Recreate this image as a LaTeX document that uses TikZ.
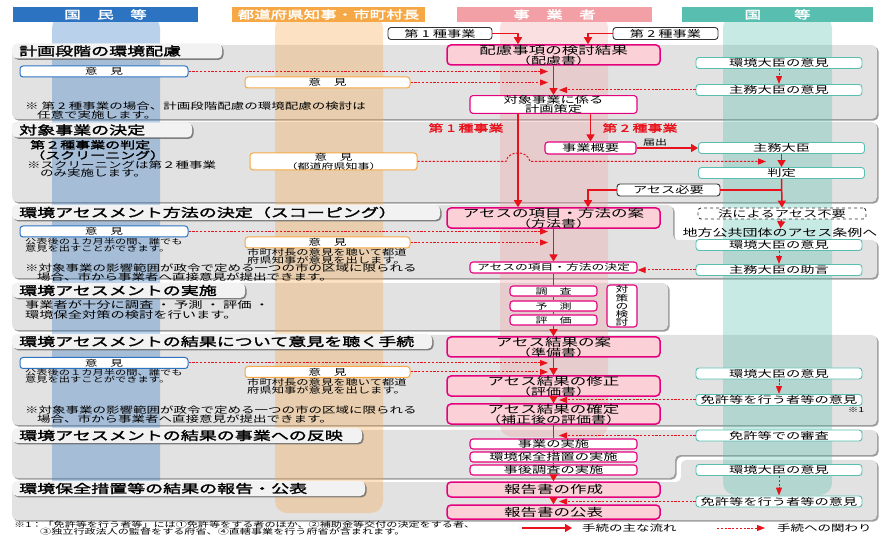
\documentclass[tikz,border=0pt]{standalone}
\usepackage{fontspec}
\setmainfont{Noto Sans CJK JP}[FakeStretch=1.5, AutoFakeBold=2]
\usepackage{tikz}
\usetikzlibrary{arrows.meta}
\usetikzlibrary{shadows}

\definecolor{kokuBlue}{HTML}{2C74C2}
\definecolor{kenOrange}{HTML}{F5A845}
\definecolor{jigyoPink}{HTML}{F2A0A6}
\definecolor{kuniTeal}{HTML}{58BFB0}
\definecolor{flowRed}{HTML}{E8121C}
\definecolor{boxMagenta}{HTML}{E5007D}
\definecolor{boxPink}{HTML}{FBD0D7}
\definecolor{panelGray}{HTML}{E2E2E2}

\newcommand{\fsz}[2]{\fontsize{#1}{#2}\selectfont}

\tikzset{x=1pt, y=-1pt,          % one unit is one pixel of the layout, y runs down
    every node/.style={inner sep=0pt, align=center},
    colhead/.style={             % coloured column heads
        fill=#1, text=white, minimum height=15pt,
        font=\fsz{11}{12}\bfseries},
    band/.style={                % vertical column strips
        fill=#1, fill opacity=0.33, rounded corners=12pt},
    panel/.style={               % grey panel of one step
        fill=panelGray, rounded corners=5pt,
        drop shadow={shadow xshift=1.6pt, shadow yshift=-1.6pt,
            fill=black!55, opacity=0.7}},
    steptab/.style={             % title of one step
        fill=gray!10, rounded corners=5pt, anchor=west,
        text width=#1, align=left,
        minimum height=15pt, inner xsep=7pt,
        font=\fsz{12}{13}\bfseries,
        drop shadow={shadow xshift=1.4pt, shadow yshift=-1.4pt,
            fill=black!60, opacity=0.8}},
    pinkbox/.style={             % documents of the proponent
        fill=boxPink, draw=boxMagenta, line width=1.5pt,
        rounded corners=4pt, minimum width=213pt, minimum height=20pt,
        font=\fsz{11}{9.8}},
    whitebox/.style={            % other work of the proponent
        fill=white, draw=boxMagenta, line width=1.1pt,
        rounded corners=3pt, minimum width=167pt, minimum height=11pt,
        font=\fsz{9.5}{9}},
    tealbox/.style={             % national government
        fill=white, draw=kuniTeal, line width=0.9pt,
        rounded corners=3pt, minimum width=166pt, minimum height=11pt,
        font=\fsz{9.5}{9}},
    bluebox/.style={             % citizens
        fill=white, draw=kokuBlue, line width=1pt,
        rounded corners=3pt, minimum width=168pt, minimum height=11pt,
        font=\fsz{8.5}{9}},
    orangebox/.style={           % prefectures and municipalities
        fill=white, draw=kenOrange, line width=1pt,
        rounded corners=3pt, minimum width=165pt, minimum height=11pt,
        font=\fsz{8.5}{9}},
    blackbox/.style={            % class of the project
        fill=white, draw=black!80, line width=0.9pt,
        rounded corners=3pt, minimum height=12pt, font=\fsz{9.5}{9}},
    note/.style={anchor=north west, align=left, font=\fsz{9}{8.5}},
    flow/.style={                % main flow of the procedure
        draw=flowRed, line width=1.5pt,
        -{Triangle[length=7pt,width=8pt]}},
    flowline/.style={draw=flowRed, line width=1.5pt},
    link/.style={                % involvement in the procedure
        draw=flowRed, line width=1pt, dash pattern=on 2.2pt off 1.6pt,
        -{Triangle[length=8pt,width=6pt]}}
}

\begin{document}
\begin{tikzpicture}
    \useasboundingbox (0,0) rectangle (887,537);

    \path[panel] (12,45) rectangle (877,119);
    \path[panel] (12,122) rectangle (877,202);
    \path[panel] (12,205) -- (673,205) -- (673,240) -- (877,240) -- (877,278) -- (12,278) -- cycle;
    \path[panel] (12,283) rectangle (668,330);
    \path[panel] (12,335) rectangle (877,425);
    \path[panel] (12,430) -- (877,430) -- (877,455) -- (675,455) -- (675,478) -- (12,478) -- cycle;
    \path[panel] (12,482) -- (681,482) -- (681,460) -- (877,460) -- (877,520) -- (12,520) -- cycle;

    \path[band=kokuBlue] (52,16) rectangle (160,497);
    \path[band=kenOrange] (275,16) rectangle (383,513);
    \path[band=jigyoPink] (500,16) rectangle (608,437);
    \path[band=kuniTeal] (723,16) rectangle (832,495);

    \node[colhead=kokuBlue, minimum width=185pt] (hKokumin) at (105.5,14.5) {国　民　等};
    \node[colhead=kenOrange, minimum width=193pt] (hTodofuken) at (328.5,14.5) {都道府県知事・市町村長};
    \node[colhead=jigyoPink, minimum width=195pt] (hJigyo) at (554.5,14.5) {事　業　者};
    \node[colhead=kuniTeal, minimum width=191pt] (hKuni) at (777.5,14.5) {国　　等};

    \node[steptab=196pt] (tab1) at (12,51) {計画段階の環境配慮};
    \node[steptab=166pt] (tab2) at (12,130) {対象事業の決定};
    \node[steptab=414pt] (tab3) at (12,212.5) {環境アセスメント方法の決定（スコーピング）};
    \node[steptab=219pt] (tab4) at (12,290.5) {環境アセスメントの実施};
    \node[steptab=406pt] (tab5) at (12,341.5) {環境アセスメントの結果について意見を聴く手続};
    \node[steptab=336pt] (tab6) at (12,435.5) {環境アセスメントの結果の事業への反映};
    \node[steptab=339pt] (tab7) at (12,488.5) {環境保全措置等の結果の報告・公表};

    \node[blackbox, minimum width=104pt] (cls1) at (440,33.5) {第 1 種事業};
    \node[blackbox, minimum width=105pt] (cls2) at (665.5,33.5) {第 2 種事業};
    \node[pinkbox] (hairyo) at (553.5,55) {配慮事項の検討結果\\{\fsz{10}{9.8}（配慮書）}};
    \node[bluebox] (ikenA1) at (104,71.5) {意　見};
    \node[orangebox] (ikenB1) at (327.5,82.5) {意　見};
    \node[whitebox, minimum height=17pt] (keikaku) at (553.5,104.5) {対象事業に係る\\計画策定};
    \node[tealbox] (daijinA1) at (779,63) {環境大臣の意見};
    \node[tealbox] (shumuA1) at (779,90) {主務大臣の意見};
    \node[note] (noteA) at (25,102) {※ 第 2 種事業の場合、計画段階配慮の環境配慮の検討は\\\hspace{12pt}任意で実施します。};

    \node[font=\fsz{10}{10}\bfseries, text=flowRed] (lbl1) at (466,128) {第 1 種事業};
    \node[font=\fsz{10}{10}\bfseries, text=flowRed] (lbl2) at (640,128) {第 2 種事業};
    \node[note, font=\fsz{10}{9}\bfseries] (screen) at (30,140) {第２種事業の判定\\（スクリーニング）};
    \node[note] (screenNote) at (27,160.5) {※スクリーニングは第２種事業\\\hspace{13pt}のみ実施します。};
    \node[orangebox, minimum height=17pt, minimum width=167pt] (ikenB2) at (333.5,161.5) {意　見\\{\fsz{8}{8}（都道府県知事）}};
    \node[whitebox, minimum width=91pt, minimum height=12pt] (gaiyo) at (590.5,148) {事業概要};
    \node[tealbox] (shumu2) at (781.5,148) {主務大臣};
    \node[tealbox] (hantei) at (781.5,173) {判定};
    \node[blackbox, minimum width=103pt] (hitsuyo) at (668.5,190) {アセス必要};
    \node[blackbox, dashed, minimum width=168pt, minimum height=11pt] (fuyo) at (782,213.5) {法によるアセス不要};
    \node[font=\fsz{10}{10}] (jorei) at (780,233) {地方公共団体のアセス条例へ};

    \node[pinkbox] (hoho) at (553.5,218) {アセスの項目・方法の案\\{\fsz{10}{9.8}（方法書）}};
    \node[bluebox] (ikenA3) at (104,231.5) {意　見};
    \node[note, font=\fsz{7.5}{7.2}] (noteA3) at (25,238) {公表後の１カ月半の間、誰でも\\意見を出すことができます。};
    \node[orangebox] (ikenB3) at (327.5,242.5) {意　見};
    \node[note, font=\fsz{8.2}{7.3}] (noteB3) at (247,248) {市町村長の意見を聴いて都道\\府県知事が意見を出します。};
    \node[note] (noteC3) at (25,264) {※対象事業の影響範囲が政令で定める一つの市の区域に限られる\\\hspace{12pt}場合、市から事業者へ直接意見が提出できます。};
    \node[whitebox, font=\fsz{8.5}{8}] (kettei) at (553.5,267.5) {アセスの項目・方法の決定};
    \node[tealbox] (daijinA3) at (779,245) {環境大臣の意見};
    \node[tealbox] (jogen) at (779,270) {主務大臣の助言};

    \node[whitebox, minimum width=87pt, minimum height=10pt, font=\fsz{8}{8}] (chosa) at (553.5,291) {調　査};
    \node[whitebox, minimum width=87pt, minimum height=10pt, font=\fsz{8}{8}] (yosoku) at (553.5,306) {予　測};
    \node[whitebox, minimum width=87pt, minimum height=10pt, font=\fsz{8}{8}] (hyoka) at (553.5,320) {評　価};
    \node[whitebox, minimum width=30pt, minimum height=42pt, font=\fsz{8.5}{8.2}] (taisaku) at (622,306) {対\\策\\の\\検\\討};
    \node[note, font=\fsz{9.5}{8.5}] (noteD) at (25,300) {事業者が十分に調査 ・ 予測 ・ 評価 ・\\環境保全対策の検討を行います。};

    \node[pinkbox] (junbi) at (553.5,347) {アセス結果の案\\{\fsz{10}{9.8}（準備書）}};
    \node[bluebox] (ikenA5) at (104,363) {意　見};
    \node[note, font=\fsz{7.5}{7.2}] (noteA5) at (25,369) {公表後の１カ月半の間、誰でも\\意見を出すことができます。};
    \node[orangebox] (ikenB5) at (327.5,372) {意　見};
    \node[note, font=\fsz{8.2}{7.3}] (noteB5) at (247,378) {市町村長の意見を聴いて都道\\府県知事が意見を出します。};
    \node[pinkbox] (hyokasho) at (553.5,386) {アセス結果の修正\\{\fsz{10}{9.8}（評価書）}};
    \node[pinkbox] (kakutei) at (553.5,414) {アセス結果の確定\\{\fsz{10}{9.8}（補正後の評価書）}};
    \node[tealbox] (daijinA5) at (779,373.5) {環境大臣の意見};
    \node[tealbox] (menkyoA5) at (779,400) {免許等を行う者等の意見};
    \node[font=\fsz{7}{7}] (kome1) at (856,410) {※1};
    \node[note] (noteE) at (25,406) {※対象事業の影響範囲が政令で定める一つの市の区域に限られる\\\hspace{12pt}場合、市から事業者へ直接意見が提出できます。};

    \node[tealbox] (shinsa) at (779,435.5) {免許等での審査};
    \node[whitebox, minimum height=10pt] (jisshi) at (553.5,444) {事業の実施};
    \node[whitebox, minimum height=10pt] (hozen) at (553.5,457) {環境保全措置の実施};
    \node[whitebox, minimum height=10pt] (jigo) at (553.5,470) {事後調査の実施};

    \node[pinkbox, minimum height=15pt] (sakusei) at (553.5,489.5) {報告書の作成};
    \node[pinkbox, minimum height=14pt] (kohyo) at (553.5,512) {報告書の公表};
    \node[tealbox] (daijinA7) at (779,470) {環境大臣の意見};
    \node[tealbox] (menkyoA7) at (779,501.5) {免許等を行う者等の意見};

    \node[note, font=\fsz{7.4}{7}] (foot) at (14,521) {※1：「免許等を行う者等」には①免許等をする者のほか、②補助金等交付の決定をする者、\\\hspace{26pt}③独立行政法人の監督をする府省、④直轄事業を行う府省が含まれます。};
    \node[anchor=west, font=\fsz{9}{9}] (legMain) at (582,528) {手続の主な流れ};
    \node[anchor=west, font=\fsz{9}{9}] (legLink) at (777,528) {手続への関わり};

    \coordinate (inL) at (548,0);
    \coordinate (inR) at (559,0);
    \coordinate (hopL) at (506,161.5);
    \coordinate (hopR) at (530,161.5);
    \coordinate (hanteiIn) at (766,161.5);
    \coordinate (legA) at (522,528);
    \coordinate (legB) at (572,528);
    \coordinate (legC) at (717,528);
    \coordinate (legD) at (765,528);

    \draw[flow] (cls1.east) -| ([xshift=-35.5pt]hairyo.north);
    \draw[flow] (cls2.west) -| ([xshift=34.5pt]hairyo.north);
    \draw[flow] (hairyo) -- (keikaku);
    \draw[link] (ikenA1.east) -- (ikenA1.east -| inL);
    \draw[link] (ikenB1.east) -- (ikenB1.east -| inL);
    \draw[link] (daijinA1) -- (shumuA1);
    \draw[link] (shumuA1.west) -- (shumuA1.west -| inR);

    \draw[flow] ([xshift=-35.5pt]keikaku.south) -- ([xshift=-35.5pt]hoho.north);
    \draw[flow] ([xshift=37pt]keikaku.south) -- (gaiyo.north);
    \draw[flow] (gaiyo) -- node[above=1.5pt, pos=0.3, font=\fsz{8}{8}] {届出} (shumu2);
    \draw[flow] (shumu2) -- (hantei);
    \draw[flow] (hantei) -- (fuyo);
    \draw[flowline] (hantei.south |- hitsuyo.east) -- (hitsuyo.east);
    \draw[flow] (hitsuyo.west) -| ([xshift=34.5pt]hoho.north);
    \draw[flow] (fuyo) -- (jorei);
    \draw[link] (ikenB2.east) -- (hopL) .. controls (508,150) and (528,150) .. (hopR) -- (hanteiIn);

    \draw[link] (ikenA3.east) -- (ikenA3.east -| inL);
    \draw[link] (ikenB3.east) -- (ikenB3.east -| inL);
    \draw[flow] (hoho) -- (kettei);
    \draw[link] (daijinA3) -- (jogen);
    \draw[link] (jogen.west) -- (jogen.west -| kettei.east);

    \draw[flowline] (kettei) -- (chosa);
    \draw[flowline] (chosa) -- (yosoku);
    \draw[flowline] (yosoku) -- (hyoka);
    \draw[flow] (hyoka) -- (junbi);

    \draw[link] (ikenA5.east) -- (ikenA5.east -| inL);
    \draw[link] (ikenB5.east) -- (ikenB5.east -| inL);
    \draw[flow] (junbi) -- (hyokasho);
    \draw[link] (daijinA5) -- (menkyoA5);
    \draw[link] (menkyoA5.west) -- (menkyoA5.west -| inR);
    \draw[flow] (hyokasho) -- (kakutei);

    \draw[link] (shinsa.west) -- (shinsa.west -| inR);
    \draw[flowline] (kakutei) -- (jisshi);
    \draw[flowline] (jisshi) -- (hozen);
    \draw[flowline] (hozen) -- (jigo);
    \draw[flow] (jigo) -- (sakusei);

    \draw[link] (daijinA7) -- (menkyoA7);
    \draw[link] (menkyoA7.west) -- (menkyoA7.west -| inR);
    \draw[flow] (sakusei) -- (kohyo);

    \draw[flow] (legA) -- (legB);
    \draw[link] (legC) -- (legD);
\end{tikzpicture}
\end{document}
